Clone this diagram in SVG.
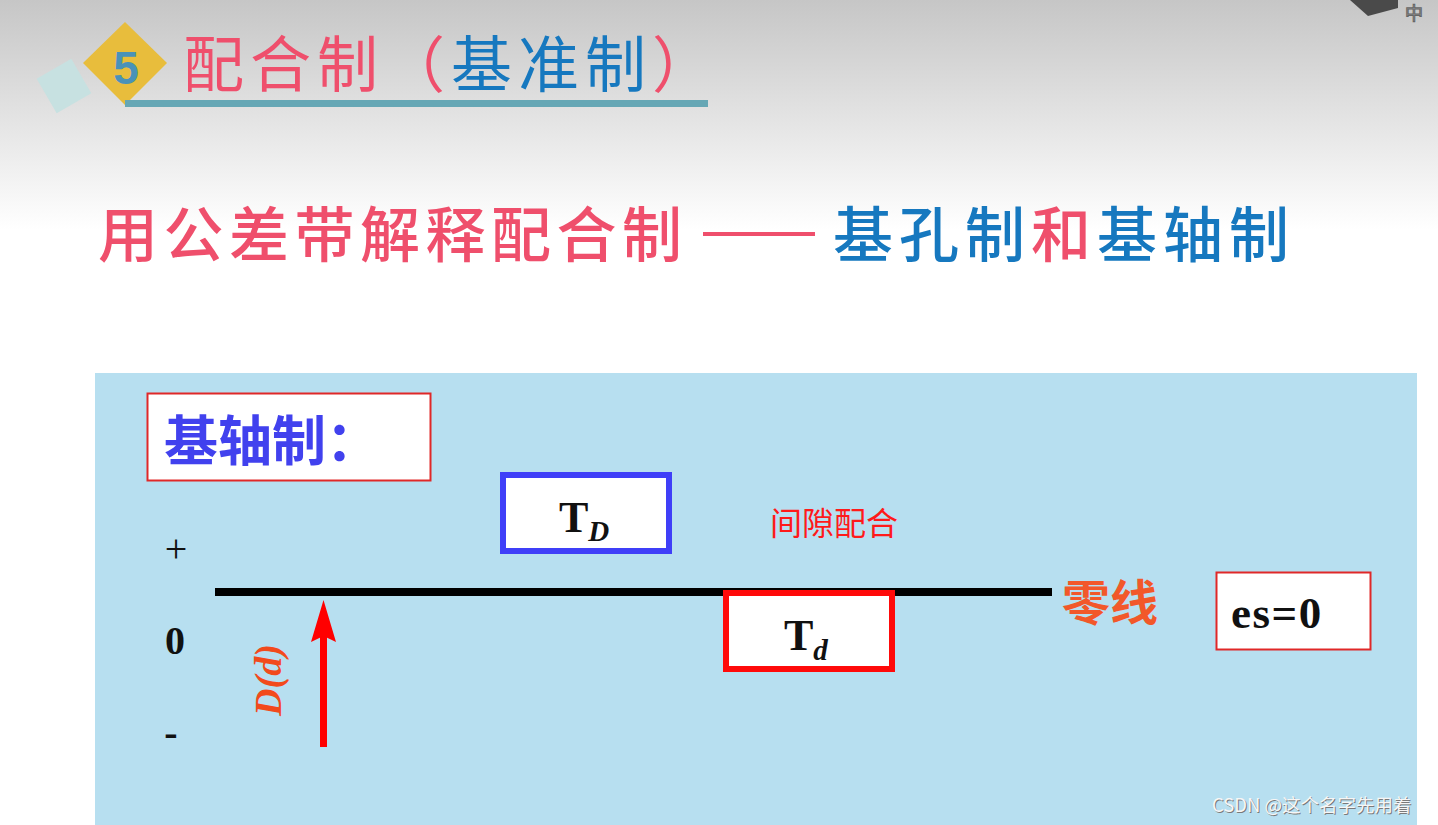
<svg xmlns="http://www.w3.org/2000/svg" width="1438" height="825" viewBox="0 0 1438 825">
<defs>
<linearGradient id="bg" x1="0" y1="0" x2="0" y2="230" gradientUnits="userSpaceOnUse">
<stop offset="0" stop-color="#c6c6c6"/>
<stop offset="1" stop-color="#ffffff"/>
</linearGradient>
<style>
.cjk{font-family:"Noto Sans CJK SC","Noto Sans",sans-serif;}
.ser{font-family:"Liberation Serif","DejaVu Serif",serif;}
.red{fill:#ef4f6c;}
.blu{fill:#1678bf;}
.box{fill:#ffffff;}
</style>
</defs>
<rect x="0" y="0" width="1438" height="825" fill="url(#bg)"/>
<!-- top-right UI fragment -->
<polygon points="1350,0 1398,0 1398,8 1368,16" fill="#4a4a4a"/>
<text x="1405" y="20" class="cjk" font-size="18" fill="none" stroke="#666" stroke-width="1.1">中</text>
<!-- title -->
<g id="title">
<rect x="44" y="66" width="40" height="40" fill="#c7e1e1" transform="rotate(-30 64 86)"/>
<polygon points="125,22 167,63 125,105 83,63" fill="#e8bd3c"/>
<text x="126" y="84" text-anchor="middle" font-family="Liberation Sans, Arial, sans-serif" font-weight="bold" font-size="46" fill="#4a92b8">5</text>
<rect x="125" y="100" width="583" height="7" fill="#66a7b5"/>
<text x="183" y="87" class="cjk" font-size="61" letter-spacing="6"><tspan class="red">配合制（</tspan><tspan class="blu" fill="#1a6db0">基准制</tspan><tspan class="red">）</tspan></text>
</g>
<g id="subtitle">
<text x="98" y="257" class="cjk red" font-size="60" font-weight="500" letter-spacing="5.5">用公差带解释配合制</text>
<rect x="703" y="232" width="112" height="4" fill="#ef4f6c"/>
<text x="833" y="257" class="cjk" font-size="60" font-weight="500" letter-spacing="6"><tspan class="blu">基孔制</tspan><tspan class="red">和</tspan><tspan class="blu">基轴制</tspan></text>
</g>
<!-- panel -->
<rect x="95" y="373" width="1322" height="452" fill="#b7dff0"/>
<g id="label-box">
<rect x="147.5" y="393.5" width="283" height="87" class="box" stroke="#e02828" stroke-width="2"/>
<text x="164" y="461" class="cjk" font-weight="bold" font-size="54" fill="#4141ee">基轴制：</text>
</g>
<g id="axis-labels">
<text x="176" y="562" text-anchor="middle" class="ser" font-size="40" fill="#111">+</text>
<text x="175" y="654" text-anchor="middle" class="ser" font-weight="bold" font-size="40" fill="#111">0</text>
<text x="171" y="746" text-anchor="middle" class="ser" font-weight="bold" font-size="40" fill="#111">-</text>
</g>
<g id="connectors">
<line x1="215" y1="592" x2="1052" y2="592" stroke="#000" stroke-width="8"/>
<line x1="323.5" y1="747" x2="323.5" y2="630" stroke="#ff0000" stroke-width="7"/>
<path d="M323.5,600 L336,642 L323.5,636 L311,642 Z" fill="#ff0000"/>
</g>
<g id="Dd">
<text transform="translate(281,680) rotate(-90)" text-anchor="middle" class="ser" font-weight="bold" font-style="italic" font-size="38" fill="#f24a1c">D(d)</text>
</g>
<g id="TD">
<rect x="503" y="475" width="166" height="76" class="box" stroke="#3f3ff8" stroke-width="6"/>
<text x="559" y="532" class="ser" font-weight="bold" font-size="44" fill="#111">T<tspan font-style="italic" font-size="29" dy="9">D</tspan></text>
</g>
<g id="Td">
<rect x="726" y="593" width="166" height="76" class="box" stroke="#ff0a0a" stroke-width="6"/>
<text x="784" y="650" class="ser" font-weight="bold" font-size="44" fill="#111">T<tspan font-style="italic" font-size="29" dy="10">d</tspan></text>
</g>
<g id="fit-label">
<text x="770" y="535" class="cjk" font-size="32" fill="#ff1a1a">间隙配合</text>
</g>
<g id="zero-line-label">
<text x="1062" y="620" class="cjk" font-weight="bold" font-size="48" fill="#f2582a">零线</text>
</g>
<g id="es-box">
<rect x="1216.5" y="572.5" width="154" height="77" class="box" stroke="#e02828" stroke-width="2"/>
<text x="1231" y="628" class="ser" font-weight="bold" font-size="45" fill="#111" letter-spacing="1.5">es=0</text>
</g>
<rect x="1417" y="373" width="21" height="452" fill="#ffffff"/>
<g id="watermark">
<text x="1213" y="813" class="cjk" font-size="18.5" fill="#7a7a7a">CSDN @这个名字先用着</text>
<text x="1212" y="812" class="cjk" font-size="18.5" fill="#f6f6f6">CSDN @这个名字先用着</text>
</g>
</svg>
